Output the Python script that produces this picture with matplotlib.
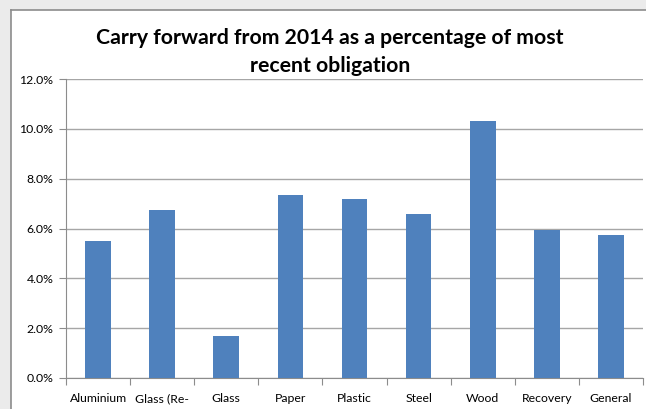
import matplotlib.pyplot as plt
from matplotlib.lines import Line2D
from matplotlib.patches import Rectangle
from matplotlib.ticker import FuncFormatter

categories = ['Aluminium', 'Glass (Re-', 'Glass', 'Paper', 'Plastic',
              'Steel', 'Wood', 'Recovery', 'General']
carry_forward = [5.5, 6.75, 1.7, 7.35, 7.2, 6.6, 10.33, 5.92, 5.75]
yticks = [0, 2, 4, 6, 8, 10, 12]

plt.rcParams['font.family'] = ['Lato', 'DejaVu Sans']

fig = plt.figure(figsize=(6.46, 4.09), dpi=100)
fig.patch.set_facecolor('#ebebeb')

# white chart area, its frame runs off the right and bottom edges
left, top = 11 / 646, 1 - 10 / 409
fig.add_artist(Rectangle((left, -0.1), 1.2, top + 0.1, transform=fig.transFigure,
                         facecolor='white', edgecolor='none', zorder=-10))
fig.add_artist(Line2D([left, left], [-0.1, top], transform=fig.transFigure,
                      color='#8c8c8c', linewidth=1.2, zorder=-9))
fig.add_artist(Line2D([left, 1.1], [top, top], transform=fig.transFigure,
                      color='#8c8c8c', linewidth=1.2, zorder=-9))

ax = fig.add_axes([66 / 646, 1 - 378 / 409, 577 / 646, 299 / 409])
ax.set_zorder(1)
ax.set_facecolor('white')

x = range(len(categories))
ax.bar(x, carry_forward, width=0.4, color='#4f81bd', zorder=3)

ax.set_xlim(-0.5, len(categories) - 0.5)
ax.set_ylim(0, 12)
ax.set_yticks(yticks)
ax.yaxis.set_major_formatter(FuncFormatter(lambda v, p: f'{v:.1f}%'))
ax.grid(axis='y', color='#a6a6a6', linewidth=1, zorder=0)

# category boundaries get the tick marks, names sit between them
ax.set_xticks([i - 0.5 for i in range(len(categories) + 1)], minor=False)
ax.set_xticklabels([])
ax.set_xticks(list(x), minor=True)
ax.set_xticklabels(categories, minor=True)
ax.tick_params(axis='x', which='minor', length=0, pad=11, labelsize=8.8)
ax.tick_params(axis='x', which='major', length=5, direction='out', color='#8c8c8c')
ax.tick_params(axis='y', length=5, color='#8c8c8c', labelsize=8.8, pad=4)

for side in ['top', 'right']:
    ax.spines[side].set_visible(False)
for side in ['left', 'bottom']:
    ax.spines[side].set_color('#8c8c8c')

fig.text(330 / 646, 1 - 52 / 409,
         'Carry forward from 2014 as a percentage of most\nrecent obligation',
         ha='center', va='center', fontsize=15.3, fontweight='bold',
         linespacing=1.5)

fig.savefig('out.png', dpi=100, facecolor=fig.get_facecolor())
